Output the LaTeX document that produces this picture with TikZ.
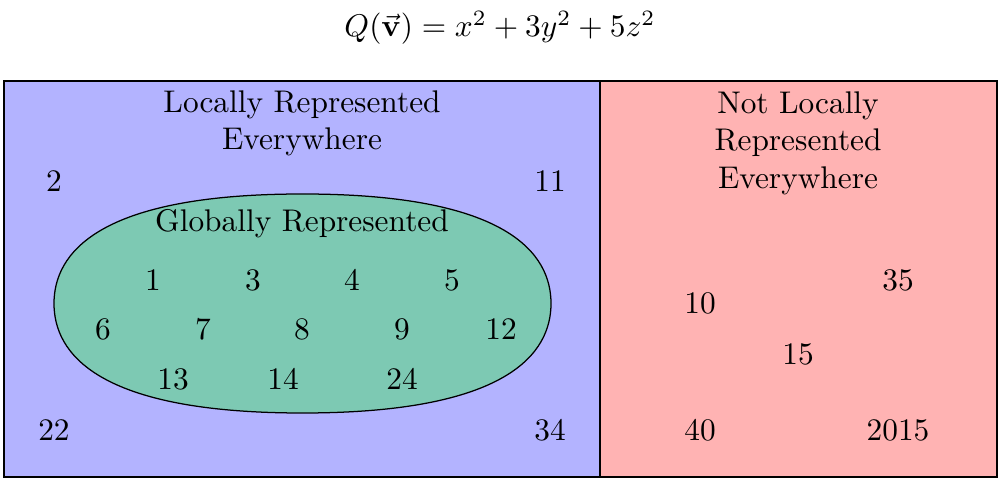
\documentclass[tikz,border=0pt]{standalone}
\definecolor{locblue}{RGB}{179,179,255}
\definecolor{notred}{RGB}{255,179,179}
\definecolor{globgreen}{RGB}{125,201,179}
\begin{document}
\begin{tikzpicture}[x=0.319pt,y=-0.319pt,
  lbl/.style={inner sep=0pt,align=center,font=\fontsize{10}{12}\selectfont},
  region/.style={draw=black,line width=0.4pt}]
\useasboundingbox (0,0) rectangle (1002,482);
% regions
\path[region,fill=locblue] (4,81) rectangle (600,477);
\path[region,fill=notred] (600,81) rectangle (997,477);
\path[region,fill=globgreen] (54,303.5)
  .. controls (54,254.2) and (96.2,194) .. (302.5,194)
  .. controls (508.8,194) and (551,254.2) .. (551,303.5)
  .. controls (551,352.8) and (508.8,413) .. (302.5,413)
  .. controls (96.2,413) and (54,352.8) .. (54,303.5) -- cycle;
% title
\node[lbl] (title) at (500,28) {$Q(\vec{\mathbf{v}}) = x^2 + 3y^2 + 5z^2$};
% headings
\node[lbl] (loc) at (302,123.5) {Locally Represented\\Everywhere};
\node[lbl] (glob) at (302,224) {Globally Represented};
\node[lbl] (notloc) at (798,143) {Not Locally\\Represented\\Everywhere};
% locally only
\node[lbl] (n2) at (54,181) {2};
\node[lbl] (n11) at (550,181) {11};
\node[lbl] (n22) at (54,430) {22};
\node[lbl] (n34) at (550,430) {34};
% globally
\node[lbl] (n1) at (153,280) {1};
\node[lbl] (n3) at (253,280) {3};
\node[lbl] (n4) at (352,280) {4};
\node[lbl] (n5) at (452,280) {5};
\node[lbl] (n6) at (103,329) {6};
\node[lbl] (n7) at (203,329) {7};
\node[lbl] (n8) at (302,329) {8};
\node[lbl] (n9) at (402,329) {9};
\node[lbl] (n12) at (501,329) {12};
\node[lbl] (n13) at (173,379) {13};
\node[lbl] (n14) at (283,379) {14};
\node[lbl] (n24) at (402,379) {24};
% not locally
\node[lbl] (n35) at (898,280) {35};
\node[lbl] (n10) at (700,303) {10};
\node[lbl] (n15) at (798,354) {15};
\node[lbl] (n40) at (700,430) {40};
\node[lbl] (n2015) at (898,430) {2015};
\end{tikzpicture}
\end{document}
